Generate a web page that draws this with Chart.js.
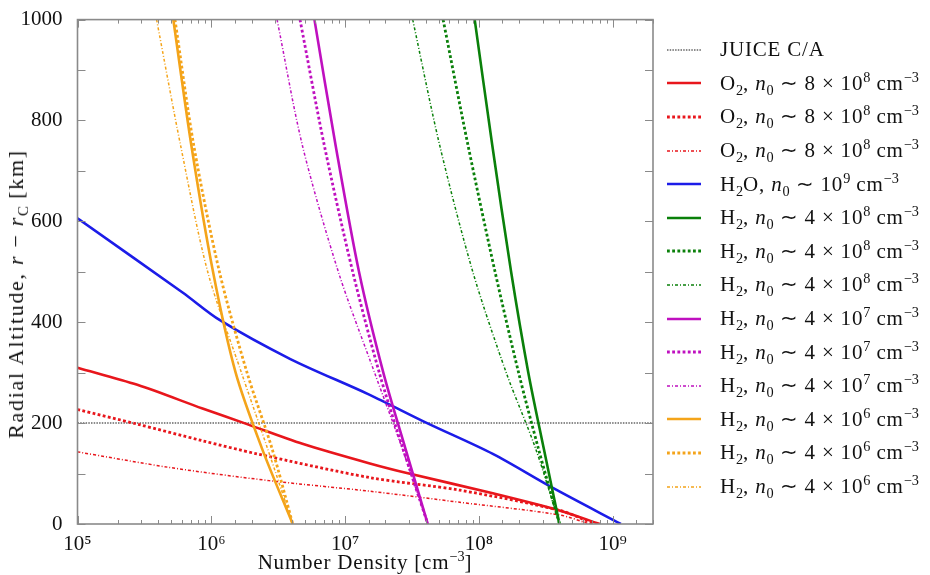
<!DOCTYPE html>
<html>
<head>
<meta charset="utf-8">
<script src="https://cdn.jsdelivr.net/npm/chart.js@4.4.0/dist/chart.umd.min.js"></script>
<style>
  body { margin: 0; background: #fff; }
  #wrap { position: relative; width: 930px; height: 575px; }
  #chart { position: absolute; left: 0; top: 0; }
  .txt { font-family: "Liberation Serif", serif; font-size: 21px; letter-spacing: 0.8px; color: #111; white-space: nowrap; }
  .txt sub, .txt sup { font-size: 0.68em; line-height: 0; letter-spacing: 0; }
  #legend { position: absolute; left: 665px; top: 33px; }
  .row { height: 33.6px; display: flex; align-items: center; }
  .row svg { width: 38px; height: 10px; margin-right: 17px; flex: none; }
  #ytitle { position: absolute; left: 16px; top: 294px; font-size: 22px; letter-spacing: 1.7px; transform: translate(-50%, -50%) rotate(-90deg); }
  #xtitle { position: absolute; left: 365px; top: 562px; transform: translate(-50%, -50%); }
</style>
</head>
<body>
<div id="wrap">
  <canvas id="chart" width="930" height="575"></canvas>
  <div id="legend" class="txt"></div>
  <div id="ytitle" class="txt">Radial Altitude, <i>r</i> − <i>r</i><sub>C</sub> [km]</div>
  <div id="xtitle" class="txt">Number Density [cm<sup>−3</sup>]</div>
</div>
<script>
// ---- data (number density in cm^-3, altitude in km) ----
const juiceN = [1e5, 2e9];
const juiceAlt = [200, 200];

const o2SolidN = [1e5, 2.8e5, 8.6e5, 1.85e6, 4.8e6, 1.53e7, 3.0e7, 1.27e8, 4.0e8, 8.0e8];
const o2SolidAlt = [310, 276, 229, 198, 159, 120, 100, 61, 27, 0];
const o2DashN = [1e5, 2.8e5, 8.6e5, 2.2e6, 1.53e7, 7.2e7, 4.0e8, 7.3e8];
const o2DashAlt = [227, 198, 165, 139, 92, 67, 27, 0];
const o2DotN = [1e5, 4.9e5, 2.7e6, 1.53e7, 7.2e7, 4.0e8, 6.7e8];
const o2DotAlt = [143, 112, 86, 65, 43, 18, 0];

const h2oN = [1e5, 6.1e5, 1.16e6, 3.9e6, 1.5e7, 4.1e7, 1.27e8, 3.6e8, 1.15e9];
const h2oAlt = [606, 459, 404, 327, 257, 200, 139, 71, 0];

// H2 profiles share one altitude grid
const h2Alt = [1000, 750, 500, 300, 150, 0];
const h2aSolidN = [9.3e7, 1.26e8, 1.74e8, 2.34e8, 3.05e8, 4.0e8];
const h2aDashN = [5.4e7, 8.3e7, 1.32e8, 1.98e8, 2.78e8, 4.0e8];
const h2aDotN = [3.2e7, 5.1e7, 9.0e7, 1.6e8, 2.65e8, 4.0e8];
const h2bSolidN = [5.9e6, 8.5e6, 1.27e7, 1.93e7, 2.82e7, 4.15e7];
const h2bDashN = [4.6e6, 7.0e6, 1.14e7, 1.8e7, 2.7e7, 4.15e7];
const h2bDotN = [3.1e6, 4.8e6, 8.9e6, 1.66e7, 2.67e7, 4.15e7];
const h2cSolidN = [5.2e5, 7.1e5, 1.03e6, 1.52e6, 2.39e6, 4.06e6];
const h2cDashN = [5.35e5, 7.4e5, 1.15e6, 1.85e6, 2.84e6, 4.06e6];
const h2cDotN = [3.9e5, 5.9e5, 9.4e5, 1.68e6, 2.63e6, 4.06e6];

const xTicksMajor = [1e5, 1e6, 1e7, 1e8, 1e9];
const yTickLabels = [0, 200, 400, 600, 800, 1000];

const o2Label = 'O<sub>2</sub>, <i>n</i><sub>0</sub> ∼ 8 × 10<sup>8</sup> cm<sup>−3</sup>';
const h2oLabel = 'H<sub>2</sub>O, <i>n</i><sub>0</sub> ∼ 10<sup>9</sup> cm<sup>−3</sup>';
const h2Label = e => 'H<sub>2</sub>, <i>n</i><sub>0</sub> ∼ 4 × 10<sup>' + e + '</sup> cm<sup>−3</sup>';

// ---- styles ----
const RED = '#e8161c', BLUE = '#1c1ce8', GREEN = '#0a800a', MAG = '#bf10bf', ORANGE = '#f4a41a', GREY = '#666';
const styles = {
  juice: { w: 1.5, dash: [1.5, 1.2] },
  solid: { w: 2.6, dash: [] },
  dash: { w: 2.8, dash: [2.8, 2.4] },
  dot: { w: 1.5, dash: [3, 2, 1, 2] }
};

const series = [
  [juiceN, juiceAlt, GREY, 'juice', 'JUICE C/A'],
  [o2SolidN, o2SolidAlt, RED, 'solid', o2Label],
  [o2DashN, o2DashAlt, RED, 'dash', o2Label],
  [o2DotN, o2DotAlt, RED, 'dot', o2Label],
  [h2oN, h2oAlt, BLUE, 'solid', h2oLabel],
  [h2aSolidN, h2Alt, GREEN, 'solid', h2Label(8)],
  [h2aDashN, h2Alt, GREEN, 'dash', h2Label(8)],
  [h2aDotN, h2Alt, GREEN, 'dot', h2Label(8)],
  [h2bSolidN, h2Alt, MAG, 'solid', h2Label(7)],
  [h2bDashN, h2Alt, MAG, 'dash', h2Label(7)],
  [h2bDotN, h2Alt, MAG, 'dot', h2Label(7)],
  [h2cSolidN, h2Alt, ORANGE, 'solid', h2Label(6)],
  [h2cDashN, h2Alt, ORANGE, 'dash', h2Label(6)],
  [h2cDotN, h2Alt, ORANGE, 'dot', h2Label(6)]
];

const datasets = series.map((s, i) => ({
  data: s[0].map((n, k) => ({ x: n, y: s[1][k] })),
  borderColor: s[2],
  borderWidth: styles[s[3]].w,
  borderDash: styles[s[3]].dash,
  borderCapStyle: 'butt',
  tension: i === 0 ? 0 : 0.3,
  pointRadius: 0,
  fill: false,
  order: -i
}));

// ---- legend (html, built from the same series) ----
const legend = document.getElementById('legend');
series.forEach(s => {
  const st = styles[s[3]];
  const row = document.createElement('div');
  row.className = 'row';
  row.innerHTML = `<svg viewBox="0 0 38 10"><line x1="2" y1="5" x2="36" y2="5" stroke="${s[2]}" stroke-width="${st.w}" stroke-dasharray="${st.dash.join(' ') || 'none'}"/></svg><span>${s[4]}</span>`;
  legend.appendChild(row);
});

// ---- frame + inward ticks on all four sides ----
const isPow10 = v => Math.abs(Math.log10(v) - Math.round(Math.log10(v))) < 1e-9;
const frame = {
  id: 'frame',
  afterDraw(c) {
    const { ctx, chartArea: a, scales: { x, y } } = c;
    ctx.save();
    ctx.strokeStyle = '#8a8a8a';
    ctx.lineWidth = 1;
    ctx.beginPath();
    x.ticks.forEach(t => {
      const px = Math.round(x.getPixelForValue(t.value)) + 0.5;
      const len = isPow10(t.value) ? 8 : 4;
      ctx.moveTo(px, a.bottom); ctx.lineTo(px, a.bottom - len);
      ctx.moveTo(px, a.top); ctx.lineTo(px, a.top + len);
    });
    y.ticks.forEach(t => {
      const py = Math.round(y.getPixelForValue(t.value)) + 0.5;
      ctx.moveTo(a.left, py); ctx.lineTo(a.left + 8, py);
      ctx.moveTo(a.right, py); ctx.lineTo(a.right - 8, py);
    });
    ctx.stroke();
    ctx.lineWidth = 1.6;
    ctx.strokeRect(a.left, a.top, a.right - a.left, a.bottom - a.top);
    ctx.restore();
  }
};

const sup = { '5': '⁵', '6': '⁶', '7': '⁷', '8': '⁸', '9': '⁹' };

new Chart(document.getElementById('chart'), {
  type: 'line',
  data: { datasets },
  options: {
    responsive: false,
    animation: false,
    layout: { padding: { left: 0, right: 277, top: 14, bottom: 0 } },
    plugins: { legend: { display: false }, tooltip: { enabled: false } },
    scales: {
      x: {
        type: 'logarithmic',
        min: 1e5,
        max: 2e9,
        grid: { display: false },
        border: { display: false },
        afterFit: s => { s.height = 51; },
        ticks: {
          autoSkip: false,
          maxRotation: 0,
          padding: 0,
          color: '#111',
          font: { family: 'Liberation Serif', size: 21 },
          callback: v => xTicksMajor.includes(v) ? '10' + sup[String(Math.round(Math.log10(v)))] : ''
        }
      },
      y: {
        type: 'linear',
        min: 0,
        max: 1000,
        grid: { display: false },
        border: { display: false },
        afterFit: s => { s.width = 77.5; },
        ticks: {
          stepSize: 100,
          padding: 7,
          color: '#111',
          font: { family: 'Liberation Serif', size: 21 },
          callback: v => yTickLabels.includes(v) ? String(v) : ''
        }
      }
    }
  },
  plugins: [frame]
});
</script>
</body>
</html>
